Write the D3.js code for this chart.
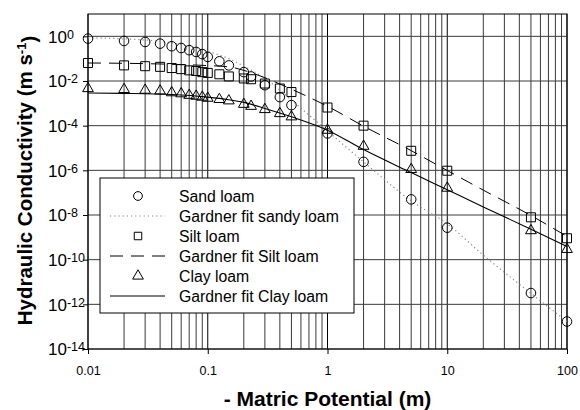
<!DOCTYPE html>
<html>
<head>
<meta charset="utf-8">
<script src="https://cdn.jsdelivr.net/npm/d3@7"></script>
<style>
  body { margin: 0; background: #fff; }
  text { font-family: "Liberation Sans", Arial, sans-serif; }
</style>
</head>
<body>
<div id="chart"></div>
<script>
// measured points: matric potential (m)
const potential = [0.01, 0.02, 0.03, 0.04, 0.05, 0.06, 0.07, 0.08, 0.09, 0.1, 0.125, 0.15, 0.2, 0.23, 0.3, 0.4, 0.5, 1, 2, 5, 10, 50, 100];
const sandLoam = [0.79, 0.62, 0.56, 0.47, 0.36, 0.30, 0.24, 0.20, 0.16, 0.12, 0.076, 0.050, 0.025, 0.016, 6.5e-3, 1.9e-3, 8.3e-4, 4.5e-5, 2.4e-6, 5e-8, 2.7e-9, 3.2e-12, 1.7e-13];
const siltLoam = [0.064, 0.050, 0.046, 0.043, 0.038, 0.034, 0.030, 0.028, 0.025, 0.023, 0.020, 0.016, 0.013, 0.012, 7.7e-3, 4.6e-3, 3.2e-3, 6.5e-4, 1.0e-4, 7.5e-6, 9.6e-7, 7.9e-9, 9.1e-10];
const clayLoam = [4.6e-3, 4.2e-3, 3.9e-3, 3.6e-3, 3.0e-3, 2.7e-3, 2.3e-3, 2.1e-3, 1.9e-3, 1.7e-3, 1.5e-3, 1.3e-3, 9.1e-4, 7.4e-4, 5.3e-4, 3.5e-4, 2.5e-4, 6.3e-5, 1.2e-5, 1.1e-6, 1.6e-7, 2.0e-9, 2.9e-10];

// Gardner fit curves
const fitPotential = [0.01, 0.02, 0.05, 0.1, 0.15, 0.2, 0.3, 0.5, 1, 2, 5, 10, 20, 50, 100];
const sandFit = [0.86, 0.77, 0.51, 0.21, 0.10, 0.046, 0.013, 1.4e-3, 5.7e-5, 2.4e-6, 4.3e-8, 4.0e-9, 1.6e-10, 3.1e-12, 1.7e-13];
const siltFit = [0.064, 0.062, 0.056, 0.049, 0.043, 0.030, 0.014, 4.3e-3, 7.4e-4, 9.5e-5, 7.6e-6, 9.8e-7, 1.3e-7, 9.5e-9, 1.1e-9];
const clayFit = [2.9e-3, 2.8e-3, 2.5e-3, 1.9e-3, 1.45e-3, 1.1e-3, 5.9e-4, 2.5e-4, 6.3e-5, 8.5e-6, 7.9e-7, 1.35e-7, 2.3e-8, 2.3e-9, 3.9e-10];

const xTicks = [0.01, 0.1, 1, 10, 100];
const xTickLabels = ["0.01", "0.1", "1", "10", "100"];
const yTickExps = [0, -2, -4, -6, -8, -10, -12, -14];

const legendLabels = ["Sand loam", "Gardner fit sandy loam", "Silt loam", "Gardner fit Silt loam", "Clay loam", "Gardner fit Clay loam"];

const margin = { top: 14, right: 13, bottom: 61, left: 88 };
const width = 580 - margin.left - margin.right;
const height = 410 - margin.top - margin.bottom;

const svg = d3.select("#chart")
  .append("svg")
  .attr("width", 580)
  .attr("height", 410)
  .append("g")
  .attr("transform", "translate(" + margin.left + "," + margin.top + ")");

const x = d3.scaleLog().domain([0.01, 100]).range([0, width]);
const y = d3.scaleLog().domain([1e-14, 10]).range([height, 0]);

// grid
svg.selectAll(".vgrid")
  .data(x.ticks())
  .enter()
  .append("line")
  .attr("x1", d => x(d)).attr("x2", d => x(d))
  .attr("y1", 0).attr("y2", height)
  .style("stroke", d => xTicks.some(t => Math.abs(t - d) / t < 1e-6) ? "#000" : "#3a3a3a")
  .style("stroke-width", 1);

svg.selectAll(".hgrid")
  .data(yTickExps)
  .enter()
  .append("line")
  .attr("x1", 0).attr("x2", width)
  .attr("y1", d => y(Math.pow(10, d))).attr("y2", d => y(Math.pow(10, d)))
  .style("stroke", "#3a3a3a")
  .style("stroke-width", 1);

// axes
const xAxis = d3.axisBottom(x)
  .tickValues(xTicks)
  .tickFormat((d, i) => xTickLabels[i])
  .tickSize(5)
  .tickPadding(12);

const yAxis = d3.axisLeft(y)
  .tickValues(yTickExps.map(e => Math.pow(10, e)))
  .tickFormat("")
  .tickSize(5);

const gx = svg.append("g")
  .attr("transform", "translate(0," + height + ")")
  .call(xAxis);
gx.select(".domain").remove();
gx.selectAll("text").style("font-size", "12.5px").style("fill", "#000");

const gy = svg.append("g").call(yAxis);
gy.select(".domain").remove();
gy.selectAll(".tick text").remove();
// labels start at a common left edge, as in the original
gy.selectAll(".tick")
  .append("text")
  .attr("x", -40)
  .attr("dy", "0.35em")
  .attr("text-anchor", "start")
  .style("fill", "#000")
  .style("font-size", "17px")
  .each(function(d) {
    const t = d3.select(this);
    t.append("tspan").text("10");
    t.append("tspan")
      .attr("dy", "-0.32em")
      .style("font-size", "12.5px")
      .text(Math.round(Math.log10(d)));
  });

// frame
svg.append("rect")
  .attr("width", width).attr("height", height)
  .style("fill", "none").style("stroke", "#000").style("stroke-width", 1);

// fit lines
const line = d3.line()
  .x(d => x(d[0]))
  .y(d => y(d[1]))
  .curve(d3.curveMonotoneX);

svg.append("path")
  .datum(fitPotential.map((p, i) => [p, sandFit[i]]))
  .attr("d", line)
  .style("fill", "none").style("stroke", "#8a8a8a").style("stroke-width", 1.2)
  .style("stroke-dasharray", "1.2,3");

svg.append("path")
  .datum(fitPotential.map((p, i) => [p, siltFit[i]]))
  .attr("d", line)
  .style("fill", "none").style("stroke", "#000").style("stroke-width", 1)
  .style("stroke-dasharray", "13,8");

svg.append("path")
  .datum(fitPotential.map((p, i) => [p, clayFit[i]]))
  .attr("d", line)
  .style("fill", "none").style("stroke", "#000").style("stroke-width", 1.1);

// markers
const circleSym = d3.symbol().type(d3.symbolCircle).size(72);
const squareSym = d3.symbol().type(d3.symbolSquare).size(81);
const triSym = d3.symbol().type(d3.symbolTriangle).size(50);

function drawMarkers(values, sym, cls) {
  svg.selectAll("." + cls)
    .data(potential.map((p, i) => [p, values[i]]))
    .enter()
    .append("path")
    .attr("class", cls)
    .attr("d", sym)
    .attr("transform", d => "translate(" + x(d[0]) + "," + y(d[1]) + ")")
    .style("fill", "none").style("stroke", "#000").style("stroke-width", 1);
}
drawMarkers(sandLoam, circleSym, "sand");
drawMarkers(siltLoam, squareSym, "silt");
drawMarkers(clayLoam, triSym, "clay");

// legend
const legend = svg.append("g").attr("transform", "translate(12,164)");
legend.append("rect")
  .attr("width", 254).attr("height", 135)
  .style("fill", "#fff").style("stroke", "#000").style("stroke-width", 1);

const rowY = i => 18 + i * 20;
legendLabels.forEach((lab, i) => {
  legend.append("text")
    .attr("x", 79).attr("y", rowY(i)).attr("dy", "0.35em")
    .style("font-size", "15.8px").style("fill", "#000")
    .text(lab);
});
legend.append("path").attr("d", d3.symbol().type(d3.symbolCircle).size(60)).attr("transform", "translate(38," + rowY(0) + ")")
  .style("fill", "none").style("stroke", "#000");
legend.append("line").attr("x1", 10).attr("x2", 65).attr("y1", rowY(1)).attr("y2", rowY(1))
  .style("stroke", "#8a8a8a").style("stroke-width", 1.2).style("stroke-dasharray", "1.2,3");
legend.append("path").attr("d", d3.symbol().type(d3.symbolSquare).size(56)).attr("transform", "translate(38," + rowY(2) + ")")
  .style("fill", "none").style("stroke", "#000");
legend.append("line").attr("x1", 10).attr("x2", 65).attr("y1", rowY(3)).attr("y2", rowY(3))
  .style("stroke", "#000").style("stroke-dasharray", "13,8");
legend.append("path").attr("d", triSym).attr("transform", "translate(38," + rowY(4) + ")")
  .style("fill", "none").style("stroke", "#000");
legend.append("line").attr("x1", 10).attr("x2", 65).attr("y1", rowY(5)).attr("y2", rowY(5))
  .style("stroke", "#000").style("stroke-width", 1.1);

// axis titles
svg.append("text")
  .attr("x", width / 2)
  .attr("y", height + 57)
  .attr("text-anchor", "middle")
  .style("font-size", "21px").style("font-weight", "bold")
  .text("- Matric Potential (m)");

const yt = svg.append("text")
  .attr("transform", "translate(-56," + (height / 2 - 1) + ") rotate(-90)")
  .attr("text-anchor", "middle")
  .style("font-size", "20.5px").style("font-weight", "bold");
yt.append("tspan").text("Hydraulic Conductivity (m s");
yt.append("tspan").attr("dy", "-0.5em").style("font-size", "13px").text("-1");
yt.append("tspan").attr("dy", "0.5em").text(")");
</script>
</body>
</html>
